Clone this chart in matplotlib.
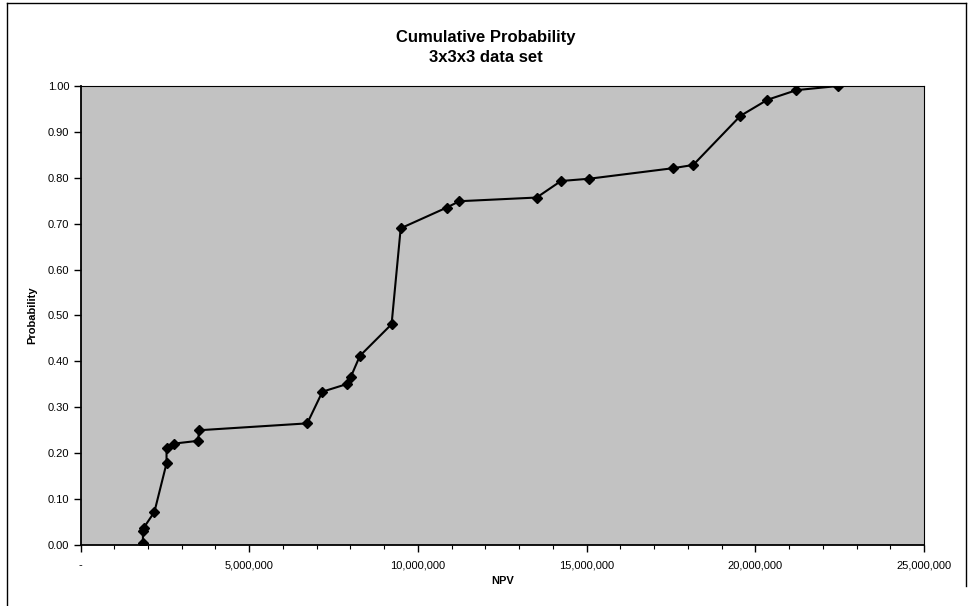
import matplotlib.pyplot as plt
from matplotlib.ticker import MultipleLocator, FuncFormatter
from matplotlib.lines import Line2D

# NPV values and cumulative probabilities
npv = [1.85e6, 1.85e6, 1.87e6, 2.19e6, 2.55e6, 2.55e6, 2.78e6, 3.49e6, 3.51e6,
       6.72e6, 7.17e6, 7.91e6, 8.01e6, 8.28e6, 9.22e6, 9.49e6, 10.85e6, 11.23e6,
       13.52e6, 14.24e6, 15.08e6, 17.57e6, 18.16e6, 19.56e6, 20.36e6, 21.22e6, 22.45e6]
prob = [0.005, 0.030, 0.037, 0.072, 0.178, 0.211, 0.221, 0.227, 0.250,
        0.265, 0.334, 0.351, 0.366, 0.412, 0.481, 0.690, 0.735, 0.749,
        0.757, 0.793, 0.798, 0.821, 0.828, 0.935, 0.970, 0.991, 1.000]

title = "Cumulative Probability\n3x3x3 data set"

plt.rcParams['font.family'] = ['Liberation Sans', 'DejaVu Sans']

fig = plt.figure(figsize=(9.72, 6.06), dpi=100)
ax = fig.add_axes([80.5 / 972, 1 - 545 / 606, (924 - 80.5) / 972, (545 - 86) / 606])

ax.set_facecolor('#c2c2c2')
ax.plot(npv, prob, color='black', lw=1.5, marker='D', ms=5.5, mfc='black', mec='black')

ax.set_xlim(0, 25e6)
ax.set_ylim(0, 1.0)
ax.xaxis.set_major_locator(MultipleLocator(5e6))
ax.xaxis.set_minor_locator(MultipleLocator(1e6))
ax.yaxis.set_major_locator(MultipleLocator(0.1))
ax.xaxis.set_major_formatter(FuncFormatter(lambda v, p: '-' if v == 0 else f'{v:,.0f}'))
ax.yaxis.set_major_formatter(FuncFormatter(lambda v, p: f'{v:.2f}'))
ax.tick_params(axis='both', which='major', direction='out', length=5, width=1, labelsize=8, pad=3)
ax.tick_params(axis='x', which='major', pad=6)
ax.tick_params(axis='x', which='minor', direction='out', length=3, width=0.8)

for side in ['top', 'right']:
    ax.spines[side].set_linewidth(0.8)
for side in ['left', 'bottom']:
    ax.spines[side].set_linewidth(1.3)

ax.set_xlabel('NPV', fontsize=8, fontweight='bold', labelpad=4)
ax.set_ylabel('Probability', fontsize=8, fontweight='bold', labelpad=8)

fig.text(0.5, 1 - 47.5 / 606, title, ha='center', va='center', fontsize=12,
         fontweight='bold', linespacing=1.4)

# outer chart border (left, top, right)
for xs, ys in [([7, 7], [0, 603]), ([7, 966], [603, 603]), ([966, 966], [603, 20])]:
    fig.add_artist(Line2D([x / 972 for x in xs], [y / 606 for y in ys],
                          transform=fig.transFigure, color='black', lw=1))

fig.savefig('out.png', dpi=100)
